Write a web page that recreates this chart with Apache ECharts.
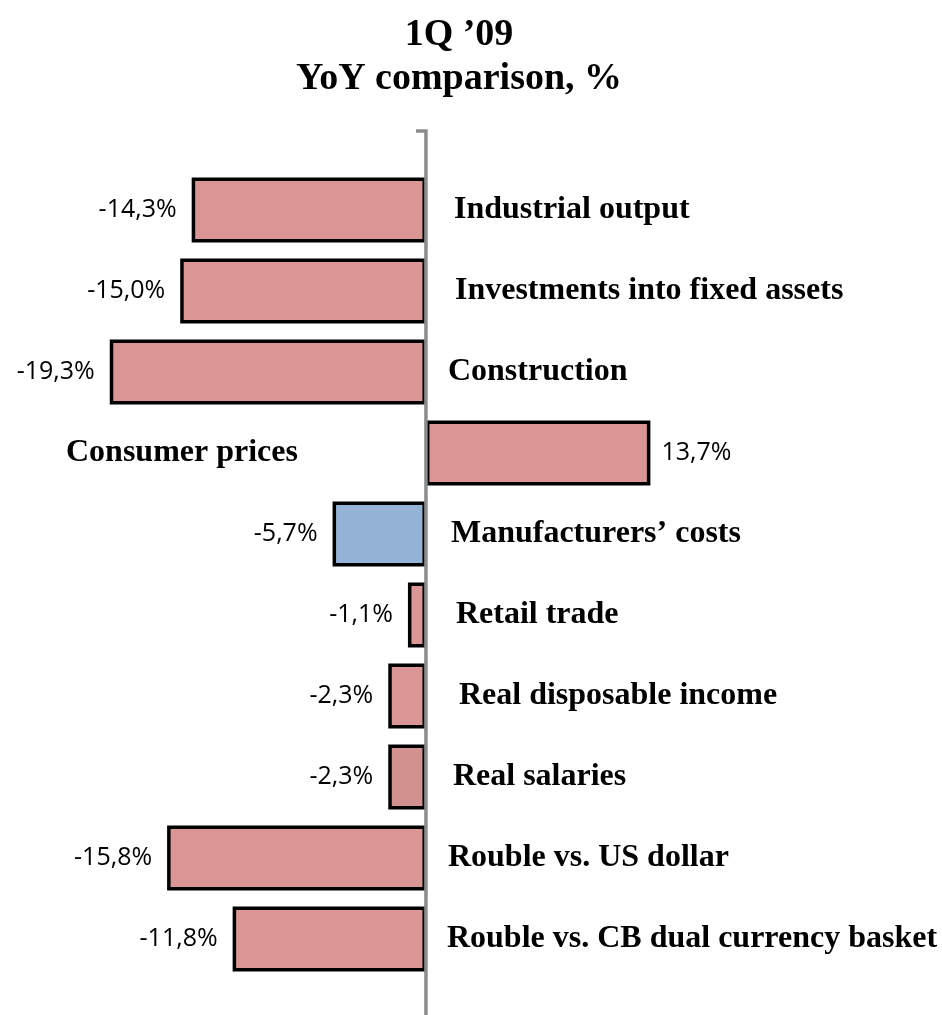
<!DOCTYPE html>
<html>
<head>
<meta charset="utf-8">
<script src="https://cdn.jsdelivr.net/npm/echarts@6/dist/echarts.min.js"></script>
<style>
  html, body { margin: 0; padding: 0; background: #fff; }
  #chart { width: 942px; height: 1015px; }
</style>
</head>
<body>
<div id="chart"></div>
<script>
// data
var categories = [
  'Industrial output',
  'Investments into fixed assets',
  'Construction',
  'Consumer prices',
  'Manufacturers\u2019 costs',
  'Retail trade',
  'Real disposable income',
  'Real salaries',
  'Rouble vs. US dollar',
  'Rouble vs. CB dual currency basket'
];
var values = [-14.3, -15.0, -19.3, 13.7, -5.7, -1.1, -2.3, -2.3, -15.8, -11.8];
var barColors = ['#D99694', '#D99694', '#D99694', '#D99694', '#95B3D7',
                 '#D99694', '#D99694', '#D2918F', '#D99694', '#D99694'];

// names drawn on the left side of the axis, and gap of each name from the axis
var leftNames = ['Consumer prices'];
var nameGaps = [28, 29, 22, 128, 25, 30, 33, 27, 22, 21];

var chart = echarts.init(document.getElementById('chart'));

var fmt = function (v) {
  return v.toFixed(1).replace('.', ',') + '%';
};

var barData = values.map(function (v, i) {
  return {
    value: v,
    itemStyle: {color: barColors[i]},
    label: {position: v < 0 ? 'left' : 'right', distance: v < 0 ? 15 : 11}
  };
});

var nameData = categories.map(function (c, i) {
  var left = leftNames.indexOf(c) >= 0;
  return {
    value: [0, c],
    label: {position: left ? 'left' : 'right', distance: nameGaps[i]}
  };
});

var option = {
  backgroundColor: '#fff',
  animation: false,
  title: {
    text: '1Q \u201909\nYoY comparison, %',
    left: 454,
    top: 8,
    textAlign: 'center',
    textStyle: {
      fontFamily: 'Liberation Serif',
      fontWeight: 'bold',
      fontSize: 38,
      lineHeight: 44,
      color: '#000'
    }
  },
  grid: {left: 0, right: 0, top: 169.5, bottom: 35.5},
  xAxis: {
    type: 'value',
    min: -26,
    max: 31.5,
    show: false
  },
  yAxis: {
    type: 'category',
    data: categories,
    inverse: true,
    axisLine: {show: false},
    axisTick: {show: false},
    axisLabel: {show: false},
    splitLine: {show: false}
  },
  series: [
    {
      type: 'bar',
      data: barData,
      barWidth: 65,
      itemStyle: {borderColor: '#000', borderWidth: 3.5},
      label: {
        show: true,
        fontFamily: 'Open Sans',
        fontSize: 25,
        color: '#000',
        formatter: function (p) { return fmt(p.value); }
      },
      z: 2
    },
    {
      type: 'scatter',
      data: nameData,
      symbolSize: 0,
      silent: true,
      itemStyle: {opacity: 1},
      label: {
        show: true,
        fontFamily: 'Liberation Serif',
        fontWeight: 'bold',
        fontSize: 32,
        color: '#000',
        opacity: 1,
        formatter: function (p) { return p.value[1]; }
      },
      z: 3
    }
  ]
};

chart.setOption(option);

// vertical zero line that runs past the plot, with a short tick at the top
var x0 = chart.convertToPixel({xAxisIndex: 0}, 0);
chart.setOption({
  graphic: [{
    type: 'polyline',
    shape: {points: [[x0 - 10, 131], [x0, 131], [x0, 1015]]},
    style: {stroke: '#8C8C8C', lineWidth: 3.5, fill: null},
    z: 10
  }]
});
</script>
</body>
</html>
